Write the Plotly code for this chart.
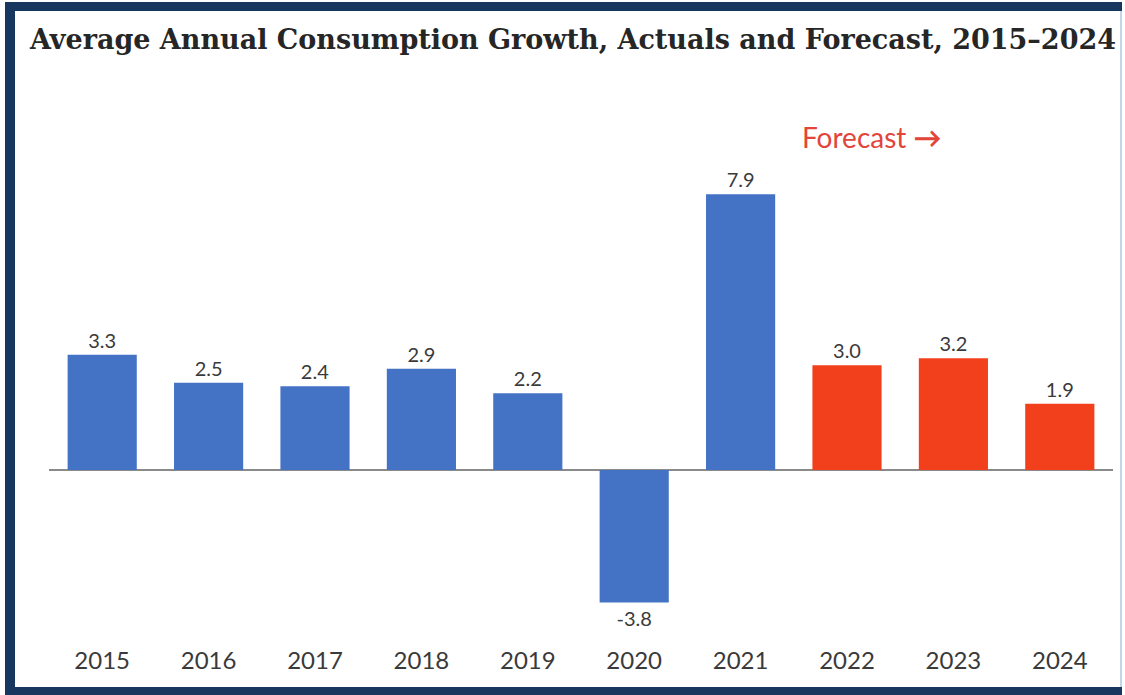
import plotly.graph_objects as go

# Consumption growth by year (%), actuals then forecast
years = ["2015", "2016", "2017", "2018", "2019", "2020", "2021", "2022", "2023", "2024"]
growth = [3.3, 2.5, 2.4, 2.9, 2.2, -3.8, 7.9, 3.0, 3.2, 1.9]
is_forecast = [False, False, False, False, False, False, False, True, True, True]

ACTUAL_COLOR = "#4472C4"
FORECAST_COLOR = "#F2401C"
NAVY = "#17375E"

W, H = 1125, 695
L, R, T, B = 49, 12, 100, 55
PW, PH = W - L - R, H - T - B


def px_x(px):
    return (px - L) / PW


def px_y(py):
    return (H - B - py) / PH


bar_colors = [FORECAST_COLOR if f else ACTUAL_COLOR for f in is_forecast]

fig = go.Figure(
    go.Bar(
        x=years,
        y=growth,
        marker=dict(color=bar_colors, line=dict(width=0)),
        text=[f"{v:.1f}" for v in growth],
        textposition="outside",
        textfont=dict(family="Lato", size=20, color="#3a3a3a"),
        cliponaxis=False,
        width=0.65,
    )
)

fig.update_layout(
    width=W,
    height=H,
    margin=dict(l=L, r=R, t=T, b=B),
    paper_bgcolor="white",
    plot_bgcolor="white",
    showlegend=False,
    title=dict(
        text="Average Annual Consumption Growth, Actuals and Forecast, 2015–2024",
        font=dict(family="DejaVu Serif", size=27, color="#262626", weight=700),
        x=573 / W,
        xanchor="center",
        xref="container",
        y=1 - 40 / H,
        yanchor="middle",
        yref="container",
    ),
    xaxis=dict(
        type="category",
        range=[-0.5, 9.5],
        showgrid=False,
        showline=False,
        ticks="",
        ticklabelstandoff=4,
        tickfont=dict(family="Lato", size=24, color="#3a3a3a"),
    ),
    yaxis=dict(
        range=[-4.871, 10.602],
        showgrid=False,
        showticklabels=False,
        zeroline=True,
        zerolinecolor="#8a8a8a",
        zerolinewidth=2,
    ),
)

fig.add_annotation(
    text="Forecast <b>→</b>",
    xref="paper",
    yref="paper",
    x=px_x(800),
    y=px_y(137),
    xanchor="left",
    yanchor="middle",
    showarrow=False,
    font=dict(family="Lato", size=28, color="#E2453A"),
)

# Navy frame around the whole graphic
frame = [
    (5, 2, 15, 695, NAVY),
    (5, 2, 1122, 11, NAVY),
    (5, 687, 1122, 695, NAVY),
    (1120, 11, 1122, 687, "#C5D5E8"),
]
for x0, y0, x1, y1, col in frame:
    fig.add_shape(
        type="rect",
        xref="paper",
        yref="paper",
        x0=px_x(x0),
        x1=px_x(x1),
        y0=px_y(y0),
        y1=px_y(y1),
        fillcolor=col,
        line=dict(width=0),
        layer="above",
    )

fig.write_html("out.html")
